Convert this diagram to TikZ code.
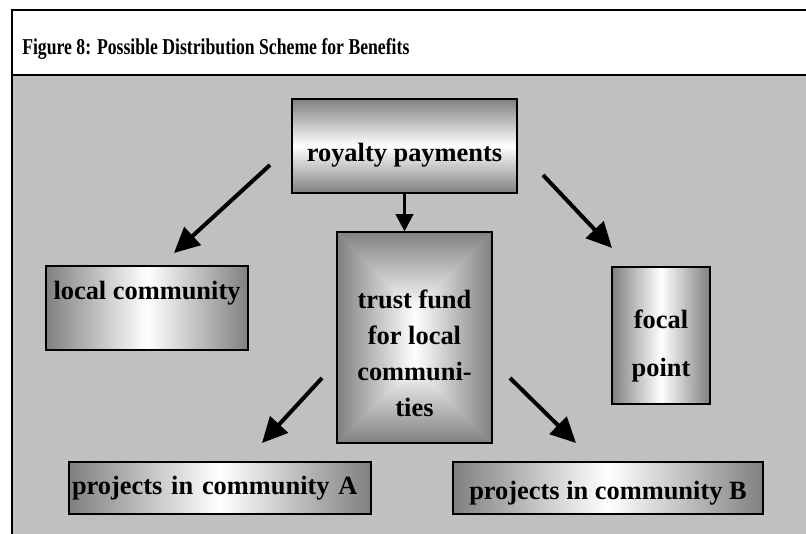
\documentclass[tikz,border=0pt]{standalone}
\usepackage{fontspec}
\setmainfont{Liberation Serif}
\newfontfamily\titlefont[FakeStretch=0.78]{Liberation Serif}
\usetikzlibrary{arrows.meta}

\definecolor{panelgray}{RGB}{192,192,192}
\definecolor{edgegray}{RGB}{128,128,128}

\tikzset{
  hshadebox/.style={draw=black, line width=0.9pt, inner sep=1.5pt,
    left color=edgegray, right color=edgegray, middle color=white},
  vshadebox/.style={draw=black, line width=0.9pt, inner sep=1.5pt,
    top color=edgegray, bottom color=edgegray, middle color=white},
  boxtext/.style={font=\fontsize{19.8}{27}\selectfont\bfseries, align=center},
  bigarrow/.style={line width=3pt, -{Triangle[length=19pt,width=18pt]}},
}

\begin{document}
\begin{tikzpicture}[x=0.75pt,y=0.75pt,yscale=-1,xscale=1]
\useasboundingbox (0,0) rectangle (806,534);

%Frame and title panel
\fill[panelgray] (12,75) rectangle (806,534);
\draw[line width=1.3pt] (806,10) -- (12,10) -- (12,534);
\draw[line width=1.6pt] (12,75) -- (806,75);
\node[anchor=base west, inner sep=0pt, font=\titlefont\fontsize{17}{19}\selectfont\bfseries] (title) at (22,55) {Figure 8: Possible Distribution Scheme for Benefits};

%Shading of the trust fund box (from the edges to the centre)
\shade[top color=edgegray, bottom color=white] (337,232) -- (492,232) -- (414.5,309.5) -- cycle;
\shade[bottom color=edgegray, top color=white] (337,443) -- (492,443) -- (414.5,365.5) -- cycle;
\shade[left color=edgegray, right color=white] (337,232) -- (414.5,309.5) -- (414.5,365.5) -- (337,443) -- cycle;
\shade[right color=edgegray, left color=white] (492,232) -- (414.5,309.5) -- (414.5,365.5) -- (492,443) -- cycle;

%Boxes
\node[vshadebox, minimum width=168.75pt, minimum height=70.5pt,
  label={[boxtext, yshift=-6.75pt]center:royalty payments}] (royalty) at (404.5,146) {};
\node[hshadebox, minimum width=151.5pt, minimum height=63pt,
  label={[boxtext, yshift=11.25pt]center:local community}] (local) at (147,308) {};
\node[draw=black, line width=0.9pt, minimum width=116.25pt, minimum height=158.25pt,
  label={[boxtext, yshift=-12pt]center:trust fund\\for local\\communi-\\ties}] (trust) at (414.5,337.5) {};
\node[hshadebox, minimum width=73.5pt, minimum height=102.75pt,
  label={[boxtext, yshift=-7.9pt]center:focal\\[9pt]point}] (focal) at (661,335.5) {};
\node[hshadebox, minimum width=226.5pt, minimum height=39pt, text width=222pt,
  boxtext, align=left] (projA) at (220,488) {projects in community A};
\node[hshadebox, minimum width=232.5pt, minimum height=39pt,
  label={[boxtext, yshift=-3.75pt]center:projects in community B}] (projB) at (608,488) {};

%Arrows
\coordinate (r1) at (270,165);
\coordinate (l1) at (174,253);
\coordinate (r2) at (543,175);
\coordinate (f1) at (612,248);
\coordinate (t1) at (322,378);
\coordinate (a1) at (262,443);
\coordinate (t2) at (510,378);
\coordinate (b1) at (576,443);
\draw[bigarrow] (r1) -- (l1);
\draw[bigarrow] (r2) -- (f1);
\draw[line width=2.5pt, -{Triangle[length=13pt,width=13pt]}] (royalty.south) -- (royalty.south |- trust.north);
\draw[bigarrow] (t1) -- (a1);
\draw[bigarrow] (t2) -- (b1);

\end{tikzpicture}
\end{document}
